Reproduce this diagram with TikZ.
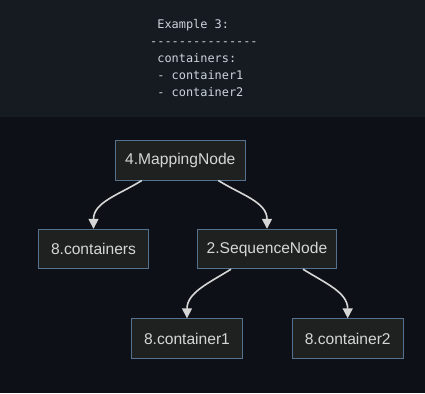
\documentclass[tikz,border=0pt]{standalone}
\usepackage{fontspec}
\setmainfont{Liberation Sans}
\setmonofont{DejaVu Sans Mono}
\usetikzlibrary{arrows.meta}

\definecolor{pagetop}{HTML}{161B22}
\definecolor{pagebg}{HTML}{0D1117}
\definecolor{boxfill}{HTML}{1F2020}
\definecolor{boxline}{HTML}{55728F}
\definecolor{ink}{HTML}{D6D6D6}
\definecolor{codeink}{HTML}{CDD3DA}

\tikzset{
    treenode/.style={draw=boxline, fill=boxfill, text=ink, line width=0.9pt,
        inner xsep=0pt, minimum width=#1, minimum height=39.5pt,
        font=\fontsize{15.6}{19}\selectfont},
    link/.style={draw=ink, line width=1.6pt, -{Triangle[length=10pt,width=10pt,fill=ink]}},
    code/.style={text=codeink, align=left, inner sep=0pt,
        font=\ttfamily\fontsize{11.9}{17}\selectfont}
}

\begin{document}
\begin{tikzpicture}[x=1pt, y=-1pt]
        % Backgrounds
        \useasboundingbox (0,0) rectangle (425,393);
        \fill[pagetop] (0,0) rectangle (425,117);
        \fill[pagebg] (0,117) rectangle (425,393);

        % The yaml snippet (anchored on its last line)
        \node[code, anchor=base west] (yaml) at (150,96.5)
            {\phantom{-}Example 3:\\
             ---------------\\
             \phantom{-}containers:\\
             \phantom{-}- container1\\
             \phantom{-}- container2};

        % Draw the tree
        \node[treenode=130pt]   (map)  at (180.3,160.3) {4.MappingNode};
        \node[treenode=109.5pt] (cont) at (93.5,249)    {8.containers};
        \node[treenode=139.5pt] (seq)  at (267,249)     {2.SequenceNode};
        \node[treenode=111.4pt] (c1)   at (187,338.5)   {8.container1};
        \node[treenode=111.4pt] (c2)   at (347.7,338.5) {8.container2};

        % Connect parents to children
        \draw[link] ([xshift=-38.5pt]map.south) to[out=-148, in=90] (cont.north);
        \draw[link] ([xshift=38pt]map.south)    to[out=-32, in=90]  (seq.north);
        \draw[link] ([xshift=-36pt]seq.south)   to[out=-148, in=90] (c1.north);
        \draw[link] ([xshift=36pt]seq.south)    to[out=-32, in=90]  (c2.north);
    \end{tikzpicture}
\end{document}
